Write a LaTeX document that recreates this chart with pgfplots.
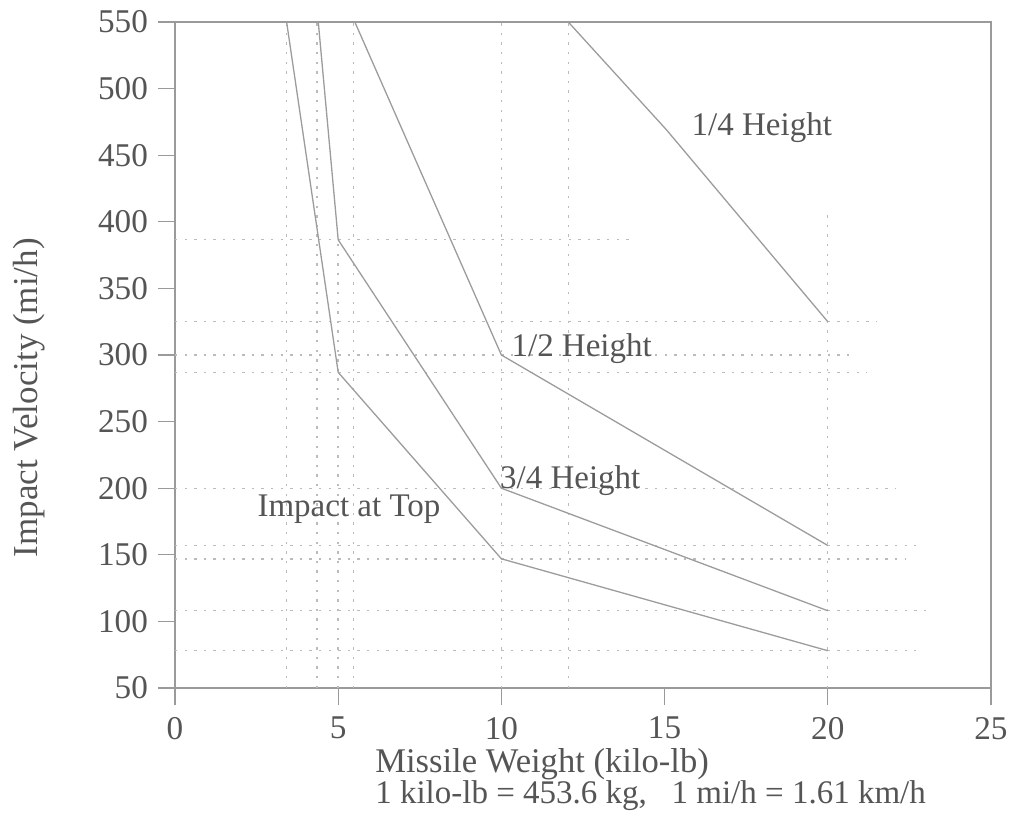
\documentclass[border=0pt]{standalone}
\usepackage{pgfplots}
\pgfplotsset{compat=1.18}
\usepackage{fontspec}
\setmainfont{Liberation Serif}
\definecolor{txt}{HTML}{555555}
\definecolor{ax}{HTML}{9A9A9A}
\definecolor{ln}{HTML}{9C9C9C}
\definecolor{dt}{HTML}{BBBBBB}
\begin{document}
\begin{tikzpicture}
\useasboundingbox (-87.5pt,-69.5pt) rectangle (417pt,344pt);
\begin{axis}[
  at={(0,0)}, anchor=south west,
  width=408pt, height=333pt, scale only axis,
  xmin=0, xmax=25, ymin=50, ymax=550,
  xtick={0,5,...,25}, ytick={50,100,...,550},
  tick pos=left, tick align=outside, major tick length=8.5pt,
  axis line style={ax, line width=0.6pt},
  tick style={ax, line width=0.6pt},
  every tick label/.append style={font=\fontsize{16.6}{19}\selectfont, text=txt},
  xticklabel style={yshift=-2.5pt},
  yticklabel style={xshift=-1.5pt},
  /pgf/number format/assume math mode=true,
  xlabel={{\fontsize{17.3}{15.5}\selectfont Missile Weight (kilo-lb)}\\1 kilo-lb = 453.6 kg,\ \ \ 1 mi/h = 1.61 km/h},
  xlabel style={at={(axis description cs:0.245,-0.09)}, anchor=north west,
    align=left, inner sep=0pt, text=txt,
    font=\fontsize{16.5}{15.8}\selectfont},
  ylabel={Impact Velocity (mi/h)},
  ylabel style={at={(axis description cs:-0.159,0.436)}, anchor=south,
    inner sep=0pt, text=txt, font=\fontsize{17.5}{20}\selectfont},
  clip=false,
]
% dotted reference lines
\pgfplotsset{dotl/.style={dt, line width=0.7pt, dash pattern=on 1.2pt off 3.6pt}}
\addplot[dotl] coordinates {(0,386.5) (13.9,386.5)};
\addplot[dotl] coordinates {(0,325) (21.5,325)};
\addplot[dotl] coordinates {(0,300) (20.7,300)};
\addplot[dotl] coordinates {(0,287) (21.2,287)};
\addplot[dotl] coordinates {(0,200) (22.1,200)};
\addplot[dotl] coordinates {(0,157) (22.7,157)};
\addplot[dotl] coordinates {(0,147) (22.4,147)};
\addplot[dotl] coordinates {(0,108) (23.0,108)};
\addplot[dotl] coordinates {(0,78) (22.7,78)};
\addplot[dotl] coordinates {(3.42,50) (3.42,550)};
\addplot[dotl] coordinates {(4.35,50) (4.35,550)};
\addplot[dotl] coordinates {(5.0,50) (5.0,386.5)};
\addplot[dotl] coordinates {(5.47,50) (5.47,550)};
\addplot[dotl] coordinates {(10,50) (10,550)};
\addplot[dotl] coordinates {(12.05,50) (12.05,550)};
\addplot[dotl] coordinates {(20,50) (20,410)};
% data lines
\addplot[ln, line width=0.65pt] coordinates {(3.42,550) (5.0,287) (10,147) (20,78)};
\addplot[ln, line width=0.65pt] coordinates {(4.39,550) (5.0,386.5) (10,200) (20,108)};
\addplot[ln, line width=0.65pt] coordinates {(5.51,550) (10,300) (20,157)};
\addplot[ln, line width=0.65pt] coordinates {(12.05,550) (15.06,469) (20,325)};
% annotations
\node[text=txt, font=\fontsize{16.5}{19}\selectfont] at (axis cs:17.98,470.5) {1/4 Height};
\node[text=txt, font=\fontsize{16.5}{19}\selectfont, anchor=west, inner sep=0pt] at (axis cs:10.3,305) {1/2 Height};
\node[text=txt, font=\fontsize{16.5}{19}\selectfont, anchor=west, inner sep=0pt] at (axis cs:9.95,206) {3/4 Height};
\node[text=txt, font=\fontsize{16.5}{19}\selectfont] at (axis cs:5.33,184) {Impact at Top};
\end{axis}
\end{tikzpicture}
\end{document}
